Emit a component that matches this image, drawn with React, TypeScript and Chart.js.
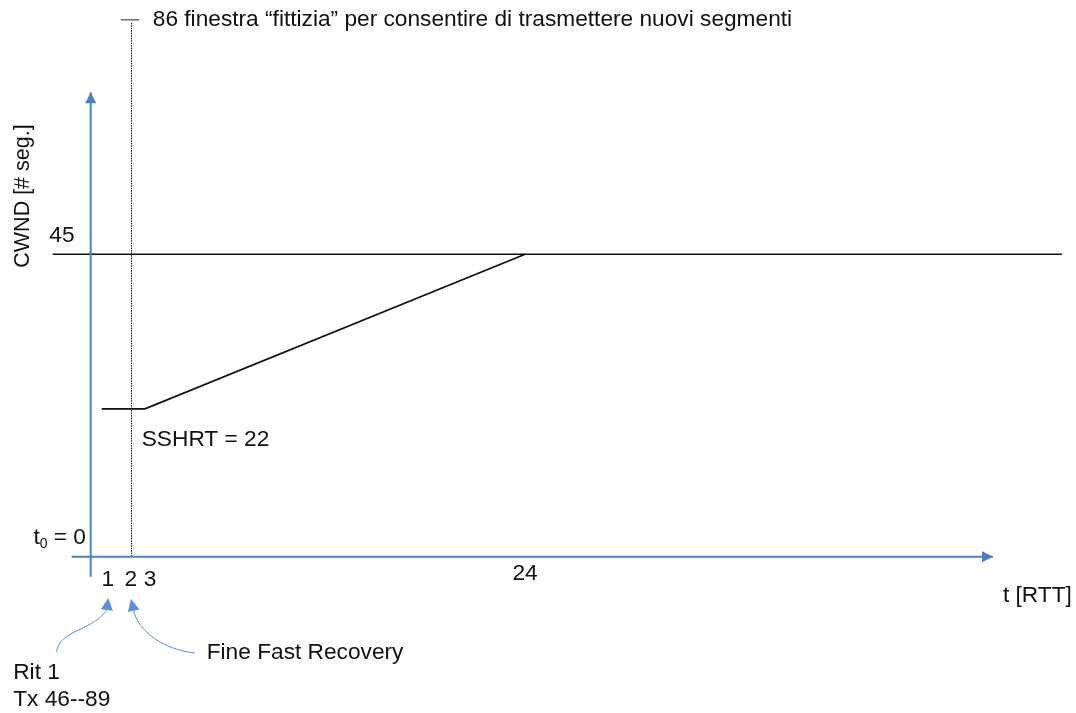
import React, { useEffect, useRef } from "react";
import { Chart, registerables } from "chart.js";

Chart.register(...registerables);

// ---- data (t in RTT, CWND in segments) ----
const sshThresholdT = [-2.1, 53.66];
const sshThresholdV = [45, 45];
const cwndT = [0.61, 3, 24];
const cwndV = [22, 22, 45];
const fakeWindowT = [2.254, 2.254];
const fakeWindowV = [0, 79.4];
const fakeMarkT = [1.66, 2.68];
const fakeMarkV = [79.9, 79.9];
const xAxisT = [-1.05, 49.85];
const xAxisV = [0, 0];
const yAxisT = [0, 0];
const yAxisV = [-3.0, 69.1];
const tickValues = [1, 2, 3, 24];
const tickLabels = ["1", "2", "3", "24"];

const X_MIN = -5.011;
const X_MAX = 54.437;
const Y_MIN = -23.26;
const Y_MAX = 82.84;

const FONT = '"Liberation Sans", Arial, sans-serif';
const AXIS_BLUE = "#4F7FBA";
const ARROW_BLUE = "#5B91D4";

const pts = (xs: number[], ys: number[]) => xs.map((x, i) => ({ x, y: ys[i] }));

const annotPlugin = {
  id: "annot",
  afterDatasetsDraw(chart: any) {
    const ctx = chart.ctx as CanvasRenderingContext2D;
    const xs = chart.scales.x;
    const ys = chart.scales.y;
    const P = (t: number, v: number) => [xs.getPixelForValue(t), ys.getPixelForValue(v)];

    const head = (fromX: number, fromY: number, tipX: number, tipY: number, len: number, half: number, color: string) => {
      const dx = tipX - fromX;
      const dy = tipY - fromY;
      const d = Math.hypot(dx, dy) || 1;
      const ux = dx / d, uy = dy / d;
      const bx = tipX - ux * len, by = tipY - uy * len;
      ctx.beginPath();
      ctx.moveTo(tipX, tipY);
      ctx.lineTo(bx - uy * half, by + ux * half);
      ctx.lineTo(bx + uy * half, by - ux * half);
      ctx.closePath();
      ctx.fillStyle = color;
      ctx.fill();
    };

    ctx.save();
    // axis arrow heads
    {
      const [ax, ay] = P(xAxisT[0], 0);
      const [tx, ty] = P(xAxisT[1], 0);
      head(ax, ay, tx, ty, 11, 5.5, AXIS_BLUE);
      const [bx, by] = P(0, yAxisV[0]);
      const [ux, uy] = P(0, yAxisV[1]);
      head(bx, by, ux, uy, 11, 5.5, AXIS_BLUE);
    }

    // curved callout arrows
    const curve = (c: number[][]) => {
      const p = c.map(([t, v]) => P(t, v));
      ctx.beginPath();
      ctx.moveTo(p[0][0], p[0][1]);
      ctx.bezierCurveTo(p[1][0], p[1][1], p[2][0], p[2][1], p[3][0], p[3][1]);
      ctx.strokeStyle = ARROW_BLUE;
      ctx.lineWidth = 1;
      ctx.setLineDash([]);
      ctx.stroke();
      head(p[3][0], p[3][1], p[4][0], p[4][1], 12, 6, ARROW_BLUE);
    };
    curve([[-1.878, -14.18], [-1.807, -10.91], [0.293, -10.91], [0.901, -7.79], [0.972, -6.15]]);
    curve([[5.762, -14.33], [4.105, -13.89], [2.613, -11.21], [2.365, -7.93], [2.227, -6.3]]);

    // texts
    ctx.fillStyle = "#111";
    const F = `22.7px ${FONT}`;
    ctx.font = F;
    ctx.textBaseline = "middle";
    const text = (s: string, t: number, v: number, align: CanvasTextAlign, dx = 0, dy = 0) => {
      const [x, y] = P(t, v);
      ctx.textAlign = align;
      ctx.fillText(s, x + dx, y + dy);
    };

    text("86 finestra \u201cfittizia\u201d per consentire di trasmettere nuovi segmenti", 3.43, 79.86, "left");
    text("45", -1.59, 47.72, "center");
    text("SSHRT = 22", 2.82, 17.36, "left");
    text("t [RTT]", 50.4, -5.85, "left");
    text("Fine Fast Recovery", 6.41, -14.33, "left");
    text("Rit 1", -4.28, -17.31, "left");
    text("Tx 46--89", -4.28, -21.33, "left");

    // tick labels under the time axis
    const nudge = [-1, 4, 5, 0];
    const drop = [23.5, 23.5, 23.5, 17.5];
    const [, axisY] = P(0, 0);
    tickValues.forEach((tv, i) => {
      const [x] = P(tv, 0);
      ctx.textAlign = "center";
      ctx.fillText(tickLabels[i], x + nudge[i], axisY + drop[i]);
    });

    // t0 = 0 with subscript
    {
      const [rx, ry] = P(-0.26, 2.78);
      ctx.font = F;
      const main = " = 0";
      const wMain = ctx.measureText(main).width;
      ctx.font = `14px ${FONT}`;
      const wSub = ctx.measureText("0").width;
      ctx.font = F;
      const wT = ctx.measureText("t").width;
      const x0 = rx - wMain - wSub - wT;
      ctx.textAlign = "left";
      ctx.fillText("t", x0, ry);
      ctx.font = `14px ${FONT}`;
      ctx.fillText("0", x0 + wT, ry + 6);
      ctx.font = F;
      ctx.fillText(main, x0 + wT + wSub, ry);
    }

    // rotated y title
    {
      const [x, y] = P(-3.74, 53.67);
      ctx.font = `21.5px ${FONT}`;
      ctx.translate(x, y);
      ctx.rotate(-Math.PI / 2);
      ctx.textAlign = "center";
      ctx.fillText("CWND [# seg.]", 0, 0);
    }
    ctx.restore();
  },
};

export default function App() {
  const ref = useRef<HTMLCanvasElement | null>(null);
  useEffect(() => {
    if (!ref.current) return;
    const line = (data: any, color: string, width: number, dash: number[] = []) => ({
      data,
      showLine: true,
      borderColor: color,
      borderWidth: width,
      borderDash: dash,
      pointRadius: 0,
      fill: false,
      tension: 0,
    });
    const chart = new Chart(ref.current, {
      type: "scatter",
      data: {
        datasets: [
          line(pts(xAxisT, xAxisV), AXIS_BLUE, 2),
          line(pts(yAxisT, yAxisV), AXIS_BLUE, 2),
          line(pts(fakeWindowT, fakeWindowV), "#000", 1, [1.5, 1]),
          line(pts(fakeMarkT, fakeMarkV), "#5E7393", 1.5),
          line(pts(sshThresholdT, sshThresholdV), "#111", 1.5),
          line(pts(cwndT, cwndV), "#111", 1.8),
        ] as any,
      },
      options: {
        animation: false,
        responsive: true,
        maintainAspectRatio: false,
        events: [],
        layout: { padding: 0 },
        plugins: { legend: { display: false }, tooltip: { enabled: false }, title: { display: false } },
        scales: {
          x: { type: "linear", min: X_MIN, max: X_MAX, display: false },
          y: { type: "linear", min: Y_MIN, max: Y_MAX, display: false },
        },
      },
      plugins: [annotPlugin],
    });
    return () => chart.destroy();
  }, []);
  return (
    <div style={{ position: "absolute", left: 0, top: 0, width: 1076, height: 713, background: "#fff" }}>
      <canvas ref={ref} />
    </div>
  );
}
